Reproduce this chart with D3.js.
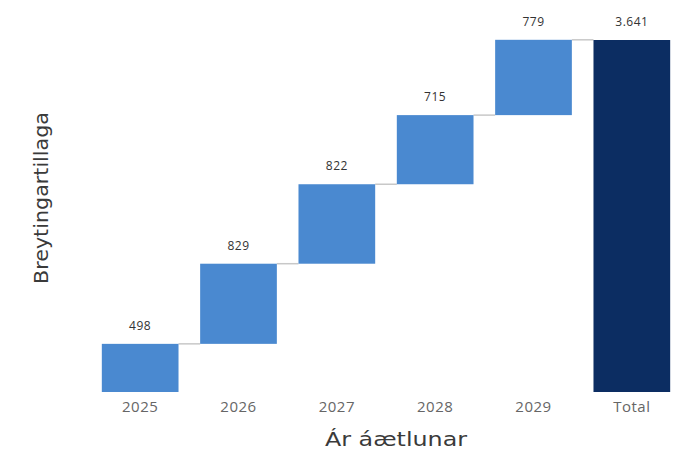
<!DOCTYPE html>
<html><head><meta charset="utf-8">
<script src="https://cdn.jsdelivr.net/npm/d3@7/dist/d3.min.js"></script>
<style>body{margin:0;background:#fff;}svg{display:block;font-family:"Open Sans","DejaVu Sans",sans-serif;}</style>
</head><body>
<svg id="c" width="678" height="454"></svg>
<script>
const categories = ["2025","2026","2027","2028","2029"];
const values = [498, 829, 822, 715, 779];
const totalLabel = "Total";
const totalValue = 3641;
const xTitle = "Ár áætlunar";
const yTitle = "Breytingartillaga";

const svg = d3.select("#c");
const baseY = 392, topY = 40;

let cum = 0;
const rows = categories.map((c,i)=>{ const s = cum; cum += values[i]; return {cat:c, start:s, end:cum, val:values[i], total:false}; });
rows.push({cat: totalLabel, start:0, end: totalValue, val: totalValue, total:true});

const x = d3.scaleBand().domain(rows.map(d=>d.cat)).range([91, 681]).paddingInner(0.22).paddingOuter(0.11);
const y = d3.scaleLinear().domain([0, totalValue]).range([baseY, topY]);

const fmt = d3.formatLocale({decimal:",", thousands:".", grouping:[3], currency:["",""]}).format(",");

// connectors
rows.slice(0,-1).forEach((d,i)=>{
  const n = rows[i+1];
  svg.append("line")
    .attr("x1", x(d.cat)+x.bandwidth()).attr("x2", x(n.cat))
    .attr("y1", y(d.end)).attr("y2", y(d.end))
    .attr("stroke", "#c8c8c8").attr("stroke-width", 1.5);
});

svg.selectAll("rect.bar").data(rows).join("rect")
  .attr("class","bar")
  .attr("x", d=>x(d.cat)).attr("width", x.bandwidth())
  .attr("y", d=>y(Math.max(d.start,d.end)))
  .attr("height", d=>Math.abs(y(d.start)-y(d.end)))
  .attr("fill", d=>d.total ? "#0c2d62" : "#4a89d0");

svg.selectAll("text.val").data(rows).join("text")
  .attr("class","val")
  .attr("x", d=>x(d.cat)+x.bandwidth()/2)
  .attr("y", d=>y(Math.max(d.start,d.end))-14)
  .attr("text-anchor","middle")
  .attr("font-size", 12).attr("letter-spacing", 0.5).attr("fill","#333")
  .text(d=>fmt(d.val));

const xAxis = d3.axisBottom(x).tickSize(0).tickPadding(0);
const gx = svg.append("g").attr("transform", `translate(0,${baseY})`).call(xAxis);
gx.select(".domain").remove();
gx.selectAll("text").attr("font-size", 15).attr("letter-spacing", 0.5).attr("fill","#666").attr("dy","1.3em")
  .attr("font-family","'Open Sans','DejaVu Sans',sans-serif");

svg.append("text").attr("x", 396).attr("y", 446).attr("text-anchor","middle")
  .attr("font-size", 20).attr("fill","#3a3a3a").attr("font-family","'DejaVu Sans',sans-serif")
  .attr("textLength", 142).attr("lengthAdjust","spacingAndGlyphs").text(xTitle);

svg.append("text").attr("transform","translate(48,198) rotate(-90)").attr("text-anchor","middle")
  .attr("font-size", 19).attr("fill","#3a3a3a").attr("font-family","'DejaVu Sans',sans-serif")
  .attr("textLength", 172).attr("lengthAdjust","spacingAndGlyphs").text(yTitle);
</script>
</body></html>
